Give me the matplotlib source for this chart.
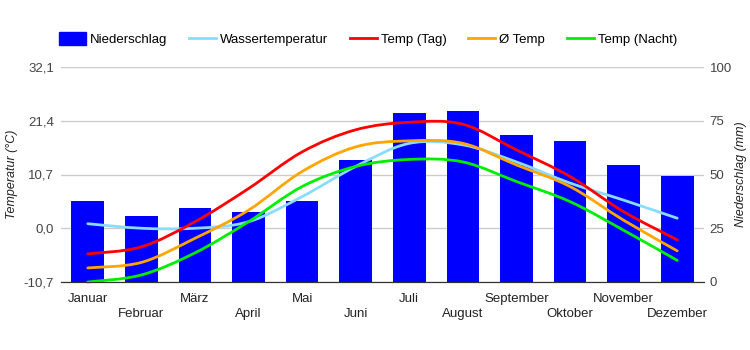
import numpy as np
import matplotlib
matplotlib.use('Agg')
import matplotlib.pyplot as plt
from matplotlib.path import Path
from matplotlib.patches import PathPatch

plt.rcParams['font.family'] = ['Liberation Sans', 'DejaVu Sans']

months = ['Januar', 'Februar', 'März', 'April', 'Mai', 'Juni', 'Juli',
          'August', 'September', 'Oktober', 'November', 'Dezember']
niederschlag = [37.7, 30.7, 34.4, 32.6, 37.7, 56.7, 78.8, 79.7, 68.5, 65.7, 54.4, 49.3]
wasser = [0.9, 0.0, 0.0, 1.3, 6.3, 12.3, 16.9, 16.6, 13.2, 9.0, 5.6, 2.0]
temp_tag = [-5.1, -3.7, 1.3, 7.9, 15.2, 19.6, 21.1, 20.7, 15.6, 10.3, 3.3, -2.3]
temp_avg = [-7.9, -6.8, -2.0, 3.6, 11.3, 16.2, 17.4, 16.9, 12.6, 8.3, 1.6, -4.5]
temp_nacht = [-10.7, -9.3, -4.9, 1.3, 8.3, 12.3, 13.7, 13.2, 9.3, 5.3, -0.4, -6.4]
temp_ticks = [-10.7, 0.0, 10.7, 21.4, 32.1]
rain_ticks = [0, 25, 50, 75, 100]


def smooth_path(xs, ys, k=1.0):
    pts = np.column_stack([xs, ys]).astype(float)
    n = len(pts)
    verts = [pts[0]]
    codes = [Path.MOVETO]
    for i in range(n - 1):
        p0 = pts[max(i - 1, 0)]
        p1 = pts[i]
        p2 = pts[i + 1]
        p3 = pts[min(i + 2, n - 1)]
        c1 = p1 + (p2 - p0) / 6 * k
        c2 = p2 - (p3 - p1) / 6 * k
        verts += [c1, c2, p2]
        codes += [Path.CURVE4] * 3
    return Path(verts, codes)


fig = plt.figure(figsize=(7.5, 3.5), dpi=100)
axr = fig.add_axes([61 / 750, 1 - 282 / 350, 643 / 750, 215 / 350])
axt = axr.twinx()
axt.yaxis.tick_left()
axt.yaxis.set_label_position('left')
axr.yaxis.tick_right()
axr.yaxis.set_label_position('right')
axt.set_zorder(axr.get_zorder() + 1)
axt.patch.set_visible(False)

x = np.arange(len(months))
axr.bar(x, niederschlag, width=0.61, color='#0000ff', label='Niederschlag', zorder=2)
axr.set_ylim(0, 100)
axr.set_yticks(rain_ticks)
axr.set_yticklabels([str(t) for t in rain_ticks])
axr.grid(axis='y', color='#cccccc', linewidth=1)
axr.set_axisbelow(True)
axr.set_xlim(-0.5, len(months) - 0.5)
axr.tick_params(axis='y', length=0, labelcolor='#444444', labelsize=9.5, pad=4)
axr.set_ylabel('Niederschlag (mm)', style='italic', fontsize=9, color='#222222', labelpad=2)

series = [
    (wasser, '#88ddff', 'Wassertemperatur'),
    (temp_tag, '#ff0000', 'Temp (Tag)'),
    (temp_avg, '#ffa500', 'Ø Temp'),
    (temp_nacht, '#00ee00', 'Temp (Nacht)'),
]
handles = [plt.Rectangle((0, 0), 1, 1, color='#0000ff')]
labels = ['Niederschlag']
for ys, col, lbl in series:
    axt.add_patch(PathPatch(smooth_path(x, ys), facecolor='none', edgecolor=col,
                            linewidth=2, clip_on=False, capstyle='round'))
    handles.append(plt.Line2D([], [], color=col, linewidth=2))
    labels.append(lbl)
axt.set_ylim(-10.7, 32.1)
axt.set_yticks(temp_ticks)
axt.set_yticklabels([f'{t:.1f}'.replace('.', ',') for t in temp_ticks])
axt.tick_params(axis='y', length=0, labelcolor='#444444', labelsize=9.5, pad=5)
axt.set_ylabel('Temperatur (°C)', style='italic', fontsize=9, color='#222222', labelpad=4)

# staggered month labels: odd months on the first row, even months below
axr.set_xticks(x[::2])
axr.set_xticklabels(months[::2])
axr.set_xticks(x[1::2], minor=True)
axr.set_xticklabels(months[1::2], minor=True)
axr.tick_params(axis='x', which='both', length=0, labelsize=9.5, labelcolor='#222222')
axr.tick_params(axis='x', which='major', pad=8)
axr.tick_params(axis='x', which='minor', pad=19)
axt.tick_params(axis='x', length=0)

for ax in (axr, axt):
    for s in ('top', 'left', 'right'):
        ax.spines[s].set_visible(False)
    ax.spines['bottom'].set_color('#333333')

fig.legend(handles, labels, loc='center left', bbox_to_anchor=(52 / 750, 1 - 39 / 350),
           ncol=5, frameon=False, fontsize=9.5, handlelength=2.05, handleheight=1.2,
           columnspacing=1.65, handletextpad=0.3, borderpad=0)

fig.savefig('out.png', dpi=100)
